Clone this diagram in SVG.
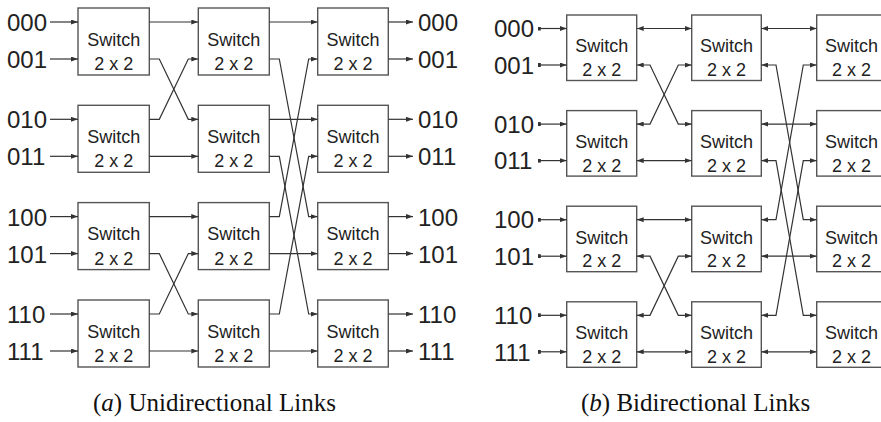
<svg xmlns="http://www.w3.org/2000/svg" width="881" height="422" viewBox="0 0 881 422">
<style>
.box{fill:#fff;stroke:#555;stroke-width:1.4}
.sw{font-family:"Liberation Sans",Arial,sans-serif;font-size:18px;fill:#222;text-anchor:middle}
.lbl{font-family:"Liberation Sans",Arial,sans-serif;font-size:24px;fill:#222}
.cap{font-family:"Liberation Serif","Times New Roman",serif;font-size:25px;fill:#111}
.ln{fill:none;stroke:#333;stroke-width:1.2}
.u{marker-end:url(#ah)}
.b{marker-start:url(#ah);marker-end:url(#ah)}
.i{marker-start:url(#tk);marker-end:url(#ah)}
</style>
<defs>
<marker id="ah" viewBox="0 0 7 5" refX="7" refY="2.5" markerWidth="7" markerHeight="5" markerUnits="userSpaceOnUse" orient="auto-start-reverse"><path d="M0,0 L7,2.5 L0,5 z" fill="#333"/></marker>
<marker id="tk" viewBox="0 0 3 4" refX="1.5" refY="2" markerWidth="3" markerHeight="4" markerUnits="userSpaceOnUse" orient="auto"><rect x="0" y="0" width="3" height="4" fill="#333"/></marker>
</defs>

<!-- (a) Unidirectional -->
<g id="a-labels" class="lbl">
<text x="7" y="31">000</text><text x="7" y="68">001</text>
<text x="7" y="128.3">010</text><text x="7" y="165.3">011</text>
<text x="7" y="225.6">100</text><text x="7" y="262.6">101</text>
<text x="7" y="323">110</text><text x="7" y="360">111</text>
<text x="418" y="31">000</text><text x="418" y="68">001</text>
<text x="418" y="128.3">010</text><text x="418" y="165.3">011</text>
<text x="418" y="225.6">100</text><text x="418" y="262.6">101</text>
<text x="418" y="323">110</text><text x="418" y="360">111</text>
</g>
<g id="a-c1r0"><rect class="box" x="78" y="8" width="71.3" height="67"/><text class="sw" x="113.7" y="45.7">Switch</text><text class="sw" x="113.7" y="70">2 x 2</text></g>
<g id="a-c1r1"><rect class="box" x="78" y="105.3" width="71.3" height="67"/><text class="sw" x="113.7" y="143">Switch</text><text class="sw" x="113.7" y="167.3">2 x 2</text></g>
<g id="a-c1r2"><rect class="box" x="78" y="202.6" width="71.3" height="67"/><text class="sw" x="113.7" y="240.3">Switch</text><text class="sw" x="113.7" y="264.6">2 x 2</text></g>
<g id="a-c1r3"><rect class="box" x="78" y="300" width="71.3" height="67"/><text class="sw" x="113.7" y="337.7">Switch</text><text class="sw" x="113.7" y="362">2 x 2</text></g>
<g id="a-c2r0"><rect class="box" x="198.3" y="8" width="71" height="67"/><text class="sw" x="233.8" y="45.7">Switch</text><text class="sw" x="233.8" y="70">2 x 2</text></g>
<g id="a-c2r1"><rect class="box" x="198.3" y="105.3" width="71" height="67"/><text class="sw" x="233.8" y="143">Switch</text><text class="sw" x="233.8" y="167.3">2 x 2</text></g>
<g id="a-c2r2"><rect class="box" x="198.3" y="202.6" width="71" height="67"/><text class="sw" x="233.8" y="240.3">Switch</text><text class="sw" x="233.8" y="264.6">2 x 2</text></g>
<g id="a-c2r3"><rect class="box" x="198.3" y="300" width="71" height="67"/><text class="sw" x="233.8" y="337.7">Switch</text><text class="sw" x="233.8" y="362">2 x 2</text></g>
<g id="a-c3r0"><rect class="box" x="317.7" y="8" width="70.6" height="67"/><text class="sw" x="353" y="45.7">Switch</text><text class="sw" x="353" y="70">2 x 2</text></g>
<g id="a-c3r1"><rect class="box" x="317.7" y="105.3" width="70.6" height="67"/><text class="sw" x="353" y="143">Switch</text><text class="sw" x="353" y="167.3">2 x 2</text></g>
<g id="a-c3r2"><rect class="box" x="317.7" y="202.6" width="70.6" height="67"/><text class="sw" x="353" y="240.3">Switch</text><text class="sw" x="353" y="264.6">2 x 2</text></g>
<g id="a-c3r3"><rect class="box" x="317.7" y="300" width="70.6" height="67"/><text class="sw" x="353" y="337.7">Switch</text><text class="sw" x="353" y="362">2 x 2</text></g>

<g id="a-connectors" class="ln">
<path class="u" d="M50,22 H78"/><path class="u" d="M50,59 H78"/>
<path class="u" d="M50,119.3 H78"/><path class="u" d="M50,156.3 H78"/>
<path class="u" d="M50,216.6 H78"/><path class="u" d="M50,253.6 H78"/>
<path class="u" d="M50,314 H78"/><path class="u" d="M50,351 H78"/>

<path class="u" d="M149.3,22 H198.3"/>
<path class="u" d="M149.3,59 H159.3 L188.3,119.3 H198.3"/>
<path class="u" d="M149.3,119.3 H159.3 L188.3,59 H198.3"/>
<path class="u" d="M149.3,156.3 H198.3"/>
<path class="u" d="M149.3,216.6 H198.3"/>
<path class="u" d="M149.3,253.6 H159.3 L188.3,314 H198.3"/>
<path class="u" d="M149.3,314 H159.3 L188.3,253.6 H198.3"/>
<path class="u" d="M149.3,351 H198.3"/>

<path class="u" d="M269.3,22 H317.7"/>
<path class="u" d="M269.3,59 H279.3 L308.7,216.6 H317.7"/>
<path class="u" d="M269.3,119.3 H317.7"/>
<path class="u" d="M269.3,156.3 H279.3 L308.7,314 H317.7"/>
<path class="u" d="M269.3,216.6 H279.3 L308.7,59 H317.7"/>
<path class="u" d="M269.3,253.6 H317.7"/>
<path class="u" d="M269.3,314 H279.3 L308.7,156.3 H317.7"/>
<path class="u" d="M269.3,351 H317.7"/>

<path class="u" d="M388.3,22 H413"/><path class="u" d="M388.3,59 H413"/>
<path class="u" d="M388.3,119.3 H413"/><path class="u" d="M388.3,156.3 H413"/>
<path class="u" d="M388.3,216.6 H413"/><path class="u" d="M388.3,253.6 H413"/>
<path class="u" d="M388.3,314 H413"/><path class="u" d="M388.3,351 H413"/>
</g>

<!-- (b) Bidirectional -->
<g id="b-labels" class="lbl">
<text x="494" y="37.2">000</text><text x="494" y="73.7">001</text>
<text x="494" y="132.8">010</text><text x="494" y="169.3">011</text>
<text x="494" y="228.4">100</text><text x="494" y="264.9">101</text>
<text x="494" y="324">110</text><text x="494" y="360.5">111</text>
</g>
<g id="b-c1r0"><rect class="box" x="566.7" y="15" width="70" height="65.5"/><text class="sw" x="601.7" y="52.3">Switch</text><text class="sw" x="601.7" y="76">2 x 2</text></g>
<g id="b-c1r1"><rect class="box" x="566.7" y="110.6" width="70" height="65.5"/><text class="sw" x="601.7" y="147.9">Switch</text><text class="sw" x="601.7" y="171.6">2 x 2</text></g>
<g id="b-c1r2"><rect class="box" x="566.7" y="206.2" width="70" height="65.5"/><text class="sw" x="601.7" y="243.5">Switch</text><text class="sw" x="601.7" y="267.2">2 x 2</text></g>
<g id="b-c1r3"><rect class="box" x="566.7" y="301.8" width="70" height="65.5"/><text class="sw" x="601.7" y="339.1">Switch</text><text class="sw" x="601.7" y="362.8">2 x 2</text></g>
<g id="b-c2r0"><rect class="box" x="691.7" y="15" width="69.6" height="65.5"/><text class="sw" x="726.5" y="52.3">Switch</text><text class="sw" x="726.5" y="76">2 x 2</text></g>
<g id="b-c2r1"><rect class="box" x="691.7" y="110.6" width="69.6" height="65.5"/><text class="sw" x="726.5" y="147.9">Switch</text><text class="sw" x="726.5" y="171.6">2 x 2</text></g>
<g id="b-c2r2"><rect class="box" x="691.7" y="206.2" width="69.6" height="65.5"/><text class="sw" x="726.5" y="243.5">Switch</text><text class="sw" x="726.5" y="267.2">2 x 2</text></g>
<g id="b-c2r3"><rect class="box" x="691.7" y="301.8" width="69.6" height="65.5"/><text class="sw" x="726.5" y="339.1">Switch</text><text class="sw" x="726.5" y="362.8">2 x 2</text></g>
<g id="b-c3r0"><rect class="box" x="816.7" y="15" width="70" height="65.5"/><text class="sw" x="851.5" y="52.3">Switch</text><text class="sw" x="851.5" y="76">2 x 2</text></g>
<g id="b-c3r1"><rect class="box" x="816.7" y="110.6" width="70" height="65.5"/><text class="sw" x="851.5" y="147.9">Switch</text><text class="sw" x="851.5" y="171.6">2 x 2</text></g>
<g id="b-c3r2"><rect class="box" x="816.7" y="206.2" width="70" height="65.5"/><text class="sw" x="851.5" y="243.5">Switch</text><text class="sw" x="851.5" y="267.2">2 x 2</text></g>
<g id="b-c3r3"><rect class="box" x="816.7" y="301.8" width="70" height="65.5"/><text class="sw" x="851.5" y="339.1">Switch</text><text class="sw" x="851.5" y="362.8">2 x 2</text></g>

<g id="b-connectors" class="ln">
<path class="i" d="M539.3,28.5 H566.7"/><path class="i" d="M539.3,65 H566.7"/>
<path class="i" d="M539.3,124.1 H566.7"/><path class="i" d="M539.3,160.6 H566.7"/>
<path class="i" d="M539.3,219.7 H566.7"/><path class="i" d="M539.3,256.2 H566.7"/>
<path class="i" d="M539.3,315.3 H566.7"/><path class="i" d="M539.3,351.8 H566.7"/>

<path class="b" d="M636.7,28.5 H691.7"/>
<path class="b" d="M636.7,65 H650 L678.3,124.1 H691.7"/>
<path class="b" d="M636.7,124.1 H650 L678.3,65 H691.7"/>
<path class="b" d="M636.7,160.6 H691.7"/>
<path class="b" d="M636.7,219.7 H691.7"/>
<path class="b" d="M636.7,256.2 H650 L678.3,315.3 H691.7"/>
<path class="b" d="M636.7,315.3 H650 L678.3,256.2 H691.7"/>
<path class="b" d="M636.7,351.8 H691.7"/>

<path class="b" d="M761.3,28.5 H816.7"/>
<path class="b" d="M761.3,65 H776 L803.3,219.7 H816.7"/>
<path class="b" d="M761.3,124.1 H816.7"/>
<path class="b" d="M761.3,160.6 H776 L803.3,315.3 H816.7"/>
<path class="b" d="M761.3,219.7 H776 L803.3,65 H816.7"/>
<path class="b" d="M761.3,256.2 H816.7"/>
<path class="b" d="M761.3,315.3 H776 L803.3,160.6 H816.7"/>
<path class="b" d="M761.3,351.8 H816.7"/>
</g>

<g id="captions" class="cap">
<text x="93" y="411">(<tspan font-style="italic">a</tspan>) Unidirectional Links</text>
<text x="581" y="411">(<tspan font-style="italic">b</tspan>) Bidirectional Links</text>
</g>
</svg>
